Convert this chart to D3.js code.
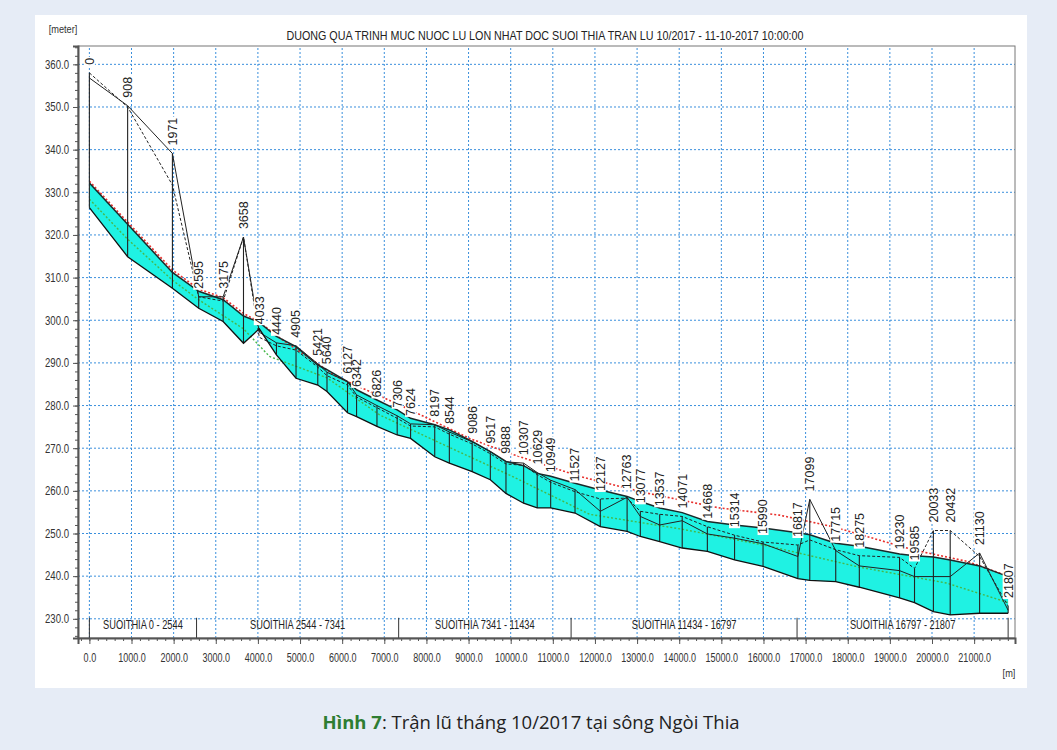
<!doctype html>
<html lang='vi'>
<head>
  <meta charset='utf-8'>
  <title>Suoi Thia longitudinal profile</title>
  <style>
    html, body { margin: 0; padding: 0; background: #e6ecf6; }
    svg { display: block; }
    .narrow, .narrow text { font-family: 'Liberation Sans', Arial, sans-serif; }
    .grid line { stroke: #3a8fdc; stroke-width: 1; stroke-dasharray: 2 2; }
    .axis path, .axis line { stroke: #555; }
    .axis text { fill: #333; font-size: 12px; }
  </style>
</head>
<body>
  <script src='https://d3js.org/d3.v7.min.js'></script>
  <script>
    // cross sections (chainage, m) and levels (m)
    const sections = [0, 908, 1971, 2595, 3175, 3658, 4033, 4440, 4905, 5421, 5640, 6127, 6342, 6826, 7306, 7624,
      8197, 8544, 9086, 9517, 9888, 10307, 10629, 10949, 11527, 12127, 12763, 13077, 13537, 14071, 14668, 15314,
      15990, 16817, 17099, 17715, 18275, 19230, 19585, 20033, 20432, 21130, 21807]
    const bed = [326.4, 314.9, 307.5, 302.8, 299.7, 294.6, 298.0, 291.9, 286.4, 284.8, 283.3, 278.3, 277.4, 275.1, 273.1, 272.3,
      268.0, 266.5, 264.5, 262.6, 259.4, 257.1, 256.0, 256.0, 254.8, 251.6, 250.5, 249.3, 248.1, 246.6, 245.8, 243.8,
      242.3, 239.4, 239.0, 238.7, 237.4, 234.9, 233.8, 231.7, 230.9, 231.3, 231.3]
    const waterLevel = [332.2, 322.5, 311.2, 306.8, 304.8, 301.0, 299.5, 296.2, 293.8, 289.5, 288.4, 285.6, 283.7, 281.3, 279.0, 277.0,
      275.5, 274.3, 271.6, 269.2, 266.9, 265.9, 264.1, 263.4, 261.8, 260.2, 258.7, 257.5, 256.0, 254.9, 252.8, 252.0,
      251.3, 250.2, 249.7, 247.7, 247.0, 245.2, 244.8, 244.5, 243.8, 242.4, 239.9]
    const leftBank = [356.8, 350.3, 339.1, 305.5, 305.5, 319.5, 297.2, 294.7, 294.0, 289.8, 287.8, 285.6, 282.5, 280.0, 277.6, 275.7,
      275.5, 273.8, 271.5, 269.2, 266.8, 266.5, 264.3, 262.5, 260.3, 255.2, 258.5, 254.0, 252.0, 253.0, 249.9, 248.9,
      247.6, 244.6, 258.0, 246.0, 242.4, 241.3, 239.9, 239.9, 239.9, 245.4, 232.0]
    const rightBank = [358.0, 350.0, 331.7, 305.5, 304.5, 319.5, 296.0, 294.0, 293.0, 289.0, 287.0, 284.8, 282.0, 279.5, 277.0, 275.2,
      275.0, 273.3, 271.0, 268.7, 266.3, 266.0, 263.8, 262.0, 259.8, 258.1, 258.3, 255.2, 254.5, 254.0, 251.6, 249.6,
      248.0, 247.3, 248.5, 246.2, 244.8, 244.4, 241.8, 250.7, 250.7, 244.6, 233.0]

    // max water level (red dotted) and green dotted line
    const maxLevelCh = [0, 908, 1971, 2595, 3175, 3658, 4033, 4440, 5866, 7441, 9024, 9974, 11636, 13218, 14955, 16382, 17648, 19540, 20823, 21807]
    const maxLevel = [332.6, 323.0, 311.8, 307.3, 305.3, 301.6, 299.6, 296.4, 286.8, 279.8, 272.3, 268.8, 263.4, 259.5, 256.0, 254.3, 251.6, 246.2, 243.5, 240.0]
    const greenCh = [0, 908, 1971, 2595, 3658, 4277, 5640, 6889, 9024, 9974, 11873, 14071, 16146, 18281, 20339, 21807]
    const greenLevel = [328.4, 319.0, 309.4, 304.8, 298.0, 291.5, 286.5, 277.8, 268.0, 263.7, 254.5, 251.0, 247.0, 242.1, 238.4, 233.8]

    // branches
    const branchBounds = [0, 2544, 7341, 11434, 16797, 21807]
    const branchNames = ['SUOITHIA 0 - 2544', 'SUOITHIA 2544 - 7341', 'SUOITHIA 7341 - 11434', 'SUOITHIA 11434 - 16797', 'SUOITHIA 16797 - 21807']

    const yTicks = d3.range(230, 361, 10)
    const xTicks = d3.range(0, 21001, 1000)

    const title = 'DUONG QUA TRINH MUC NUOC LU LON NHAT DOC SUOI THIA TRAN LU 10/2017  - 11-10-2017 10:00:00'

    const W = 1057, H = 750

    // squeeze text horizontally, the original uses a condensed face
    const condense = (sel, k) => sel.each(function () {
      const w = this.getComputedTextLength()
      d3.select(this).attr('textLength', w * k).attr('lengthAdjust', 'spacingAndGlyphs')
    })

    const svg = d3.select('body').append('svg')
      .attr('width', W)
      .attr('height', H)

    svg.append('rect')
      .attr('x', 35).attr('y', 15)
      .attr('width', 992).attr('height', 673)
      .attr('fill', '#fff')

    const x = d3.scaleLinear().domain([-270, 21970]).range([78, 1015])
    const y = d3.scaleLinear().domain([225.5, 364.3]).range([638, 46])

    // grid
    const grid = svg.append('g').attr('class', 'grid')
    grid.selectAll('line.h').data(yTicks).join('line')
      .attr('class', 'h')
      .attr('x1', x.range()[0]).attr('x2', x.range()[1])
      .attr('y1', d => y(d)).attr('y2', d => y(d))
    grid.selectAll('line.v').data(xTicks).join('line')
      .attr('class', 'v')
      .attr('y1', y.range()[0]).attr('y2', y.range()[1])
      .attr('x1', d => x(d)).attr('x2', d => x(d))

    // frame
    svg.append('rect')
      .attr('x', 78).attr('y', 46)
      .attr('width', 1015 - 78).attr('height', 638 - 46)
      .attr('fill', 'none')
      .attr('stroke', '#777')

    const rows = sections.map((ch, i) => ({
      ch,
      bed: bed[i],
      ws: waterLevel[i],
      lb: leftBank[i],
      rb: rightBank[i]
    }))

    // water body
    svg.append('path')
      .datum(rows)
      .attr('fill', '#1ff2e3')
      .attr('d', d3.area().x(d => x(d.ch)).y0(d => y(d.bed)).y1(d => y(d.ws)))

    const line = d3.line().x(d => x(d[0])).y(d => y(d[1]))

    svg.append('path')
      .datum(greenCh.map((c, i) => [c, greenLevel[i]]))
      .attr('fill', 'none')
      .attr('stroke', '#46b94a')
      .attr('stroke-width', 1.4)
      .attr('stroke-dasharray', '2 2')
      .attr('d', line)

    svg.append('path')
      .datum(maxLevelCh.map((c, i) => [c, maxLevel[i]]))
      .attr('fill', 'none')
      .attr('stroke', '#e8302c')
      .attr('stroke-width', 1.6)
      .attr('stroke-dasharray', '2 2')
      .attr('d', line)

    // section verticals
    svg.append('g')
      .selectAll('line')
      .data(rows)
      .join('line')
      .attr('x1', d => x(d.ch)).attr('x2', d => x(d.ch))
      .attr('y1', d => y(d.bed))
      .attr('y2', d => y(Math.max(d.lb, d.rb)))
      .attr('stroke', '#222')
      .attr('stroke-width', 1.1)

    svg.append('path')
      .datum(rows.map(d => [d.ch, d.rb]))
      .attr('fill', 'none')
      .attr('stroke', '#222')
      .attr('stroke-width', 1)
      .attr('stroke-dasharray', '3 2')
      .attr('d', line)

    svg.append('path')
      .datum(rows.map(d => [d.ch, d.lb]))
      .attr('fill', 'none')
      .attr('stroke', '#222')
      .attr('stroke-width', 1)
      .attr('d', line)

    svg.append('path')
      .datum(rows.map(d => [d.ch, d.ws]))
      .attr('fill', 'none')
      .attr('stroke', '#1a2a2a')
      .attr('stroke-width', 1.5)
      .attr('d', line)

    svg.append('path')
      .datum(rows.map(d => [d.ch, d.bed]))
      .attr('fill', 'none')
      .attr('stroke', '#111')
      .attr('stroke-width', 1.3)
      .attr('d', line)

    // chainage labels: white boxes first, then all texts on top
    const labPos = d => 'translate(' + x(d.ch) + ',' + (y(Math.max(d.lb, d.rb)) - 8) + ') rotate(-90)'
    const boxes = svg.append('g')
    const labels = svg.append('g')
      .selectAll('text')
      .data(rows)
      .join('text')
      .attr('transform', labPos)
      .attr('dy', '0.35em')
      .style('font-family', "'Liberation Sans', Arial, sans-serif")
      .style('font-size', '12.5px')
      .attr('fill', '#222')
      .text(d => d.ch)

    labels.each(function (d) {
      const w = this.getComputedTextLength()
      boxes.append('rect')
        .attr('transform', labPos(d))
        .attr('x', -1).attr('y', -5.5)
        .attr('width', w + 2).attr('height', 11)
        .attr('fill', '#fff')
    })

    // branch bands
    const br = svg.append('g').attr('class', 'narrow')
    br.selectAll('line')
      .data(branchBounds)
      .join('line')
      .attr('x1', d => x(d)).attr('x2', d => x(d))
      .attr('y1', y(230) - 1).attr('y2', 638)
      .attr('stroke', '#333')
    br.selectAll('text')
      .data(branchNames)
      .join('text')
      .attr('x', (d, i) => (x(branchBounds[i]) + x(branchBounds[i + 1])) / 2)
      .attr('y', 629)
      .attr('text-anchor', 'middle')
      .style('font-size', '12.5px')
      .attr('fill', '#222')
      .text(d => d)
      .call(condense, 0.74)

    // axes
    const yAxis = svg.append('g')
      .attr('class', 'axis narrow')
      .attr('transform', 'translate(78,0)')
      .call(d3.axisLeft(y).tickValues(yTicks).tickSize(5).tickPadding(4).tickFormat(d3.format('.1f')))
    svg.append('g')
      .attr('class', 'axis')
      .attr('transform', 'translate(78,0)')
      .call(d3.axisLeft(y).tickValues(d3.range(226, 365, 2)).tickSize(3).tickFormat(''))
      .call(g => g.select('.domain').remove())
    yAxis.select('.domain').attr('stroke-width', 2)
    yAxis.selectAll('text').call(condense, 0.8)

    const xAxis = svg.append('g')
      .attr('class', 'axis narrow')
      .attr('transform', 'translate(0,638)')
      .call(d3.axisBottom(x).tickValues(xTicks).tickSize(6).tickPadding(9).tickFormat(d3.format('.1f')))
    svg.append('g')
      .attr('class', 'axis')
      .attr('transform', 'translate(0,638)')
      .call(d3.axisBottom(x).tickValues(d3.range(-200, 21901, 200)).tickSize(3).tickFormat(''))
      .call(g => g.select('.domain').remove())
    xAxis.select('.domain').attr('stroke-width', 2)
    xAxis.selectAll('text').call(condense, 0.75)

    // texts
    svg.append('text')
      .attr('class', 'narrow')
      .attr('x', 545).attr('y', 40)
      .attr('text-anchor', 'middle')
      .style('font-size', '13.5px')
      .attr('fill', '#222')
      .text(title)
      .attr('textLength', 517)
      .attr('lengthAdjust', 'spacingAndGlyphs')

    svg.append('text')
      .attr('class', 'narrow')
      .attr('x', 63).attr('y', 33)
      .attr('text-anchor', 'middle')
      .style('font-size', '11.5px')
      .attr('fill', '#333')
      .text('[meter]')
      .call(condense, 0.8)

    svg.append('text')
      .attr('class', 'narrow')
      .attr('x', 1009).attr('y', 677)
      .attr('text-anchor', 'middle')
      .style('font-size', '11.5px')
      .attr('fill', '#333')
      .text('[m]')
      .call(condense, 0.8)

    const cap = svg.append('text')
      .attr('x', 531).attr('y', 729)
      .attr('text-anchor', 'middle')
      .style('font-family', "'Open Sans', sans-serif")
      .style('font-size', '18.5px')
      .attr('fill', '#222')
    cap.append('tspan').attr('fill', '#2e7d32').attr('font-weight', 'bold').text('Hình 7')
    cap.append('tspan').text(': Trận lũ tháng 10/2017 tại sông Ngòi Thia')
  </script>
</body>
</html>
